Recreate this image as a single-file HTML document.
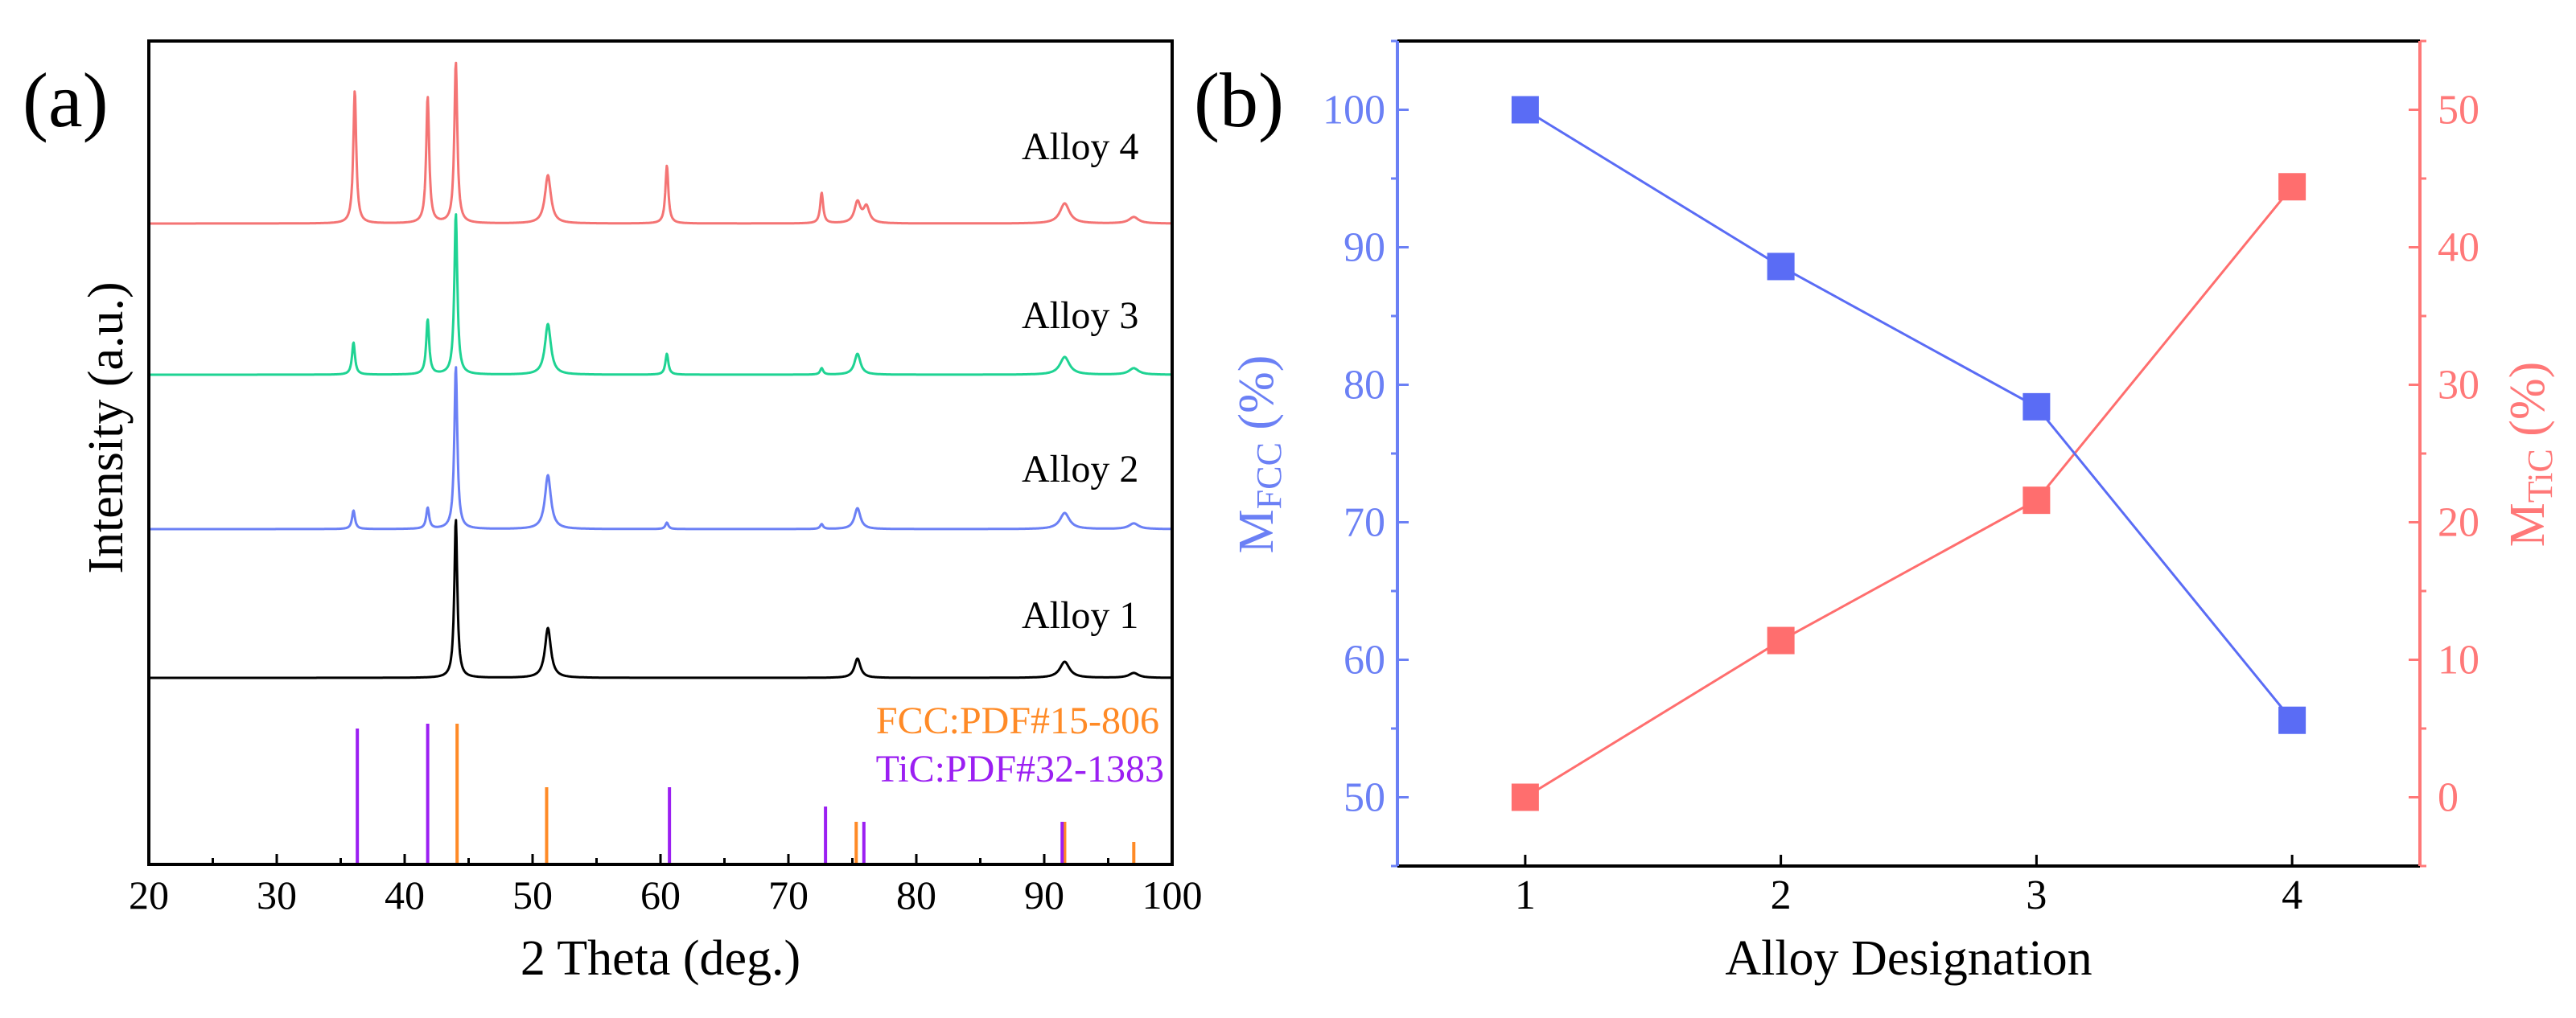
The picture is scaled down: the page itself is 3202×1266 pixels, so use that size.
<!DOCTYPE html>
<html><head><meta charset="utf-8"><style>
html,body{margin:0;padding:0;background:#fff}
svg{display:block}
text{font-family:"Liberation Serif",serif}
</style></head><body>
<svg id="fig" width="3202" height="1266" viewBox="0 0 3202 1266" xmlns="http://www.w3.org/2000/svg">
<g id="pa"></g>
<g id="pb"></g>
</svg>
<script>
// ---- Panel (a) data ----
const xrdAlloys = ["Alloy 1","Alloy 2","Alloy 3","Alloy 4"];
const xrdOffsets = [232, 417, 609, 797];
const alloy1Pos = [44.0, 51.2, 75.4, 91.6, 97.0];
const alloy1Hgt = [197, 62, 24, 20, 6];
const alloy2Pos = [36.0, 41.8, 44.0, 51.2, 60.5, 72.6, 75.4, 91.6, 97.0];
const alloy2Hgt = [23, 26, 202, 67, 8, 6, 26, 20, 7];
const alloy3Pos = [36.0, 41.8, 44.0, 51.2, 60.5, 72.6, 75.4, 91.6, 97.0];
const alloy3Hgt = [40, 68, 200, 63, 26, 8, 26, 22, 8];
const alloy4Pos = [36.1, 41.8, 44.0, 51.2, 60.5, 72.6, 75.4, 76.1, 91.6, 97.0];
const alloy4Hgt = [165, 157, 200, 60, 72, 38, 26, 20, 25, 8];
const fccPos = [44.1, 51.1, 75.3, 91.6, 97.0];
const fccHgt = [175, 96, 53, 53, 28];
const ticPos = [36.3, 41.8, 60.7, 72.9, 75.9, 91.4];
const ticHgt = [169, 175, 96, 72, 53, 53];
const xTicksA = [20,30,40,50,60,70,80,90,100];
// ---- Panel (b) data ----
const alloyCats = [1,2,3,4];
const mFcc = [100, 88.6, 78.4, 55.6];
const mTic = [0, 11.4, 21.6, 44.4];
const leftTicks = [50,60,70,80,90,100];
const rightTicks = [0,10,20,30,40,50];

const NS="http://www.w3.org/2000/svg";
function mk(parent,tag,attrs,txt){const e=document.createElementNS(NS,tag);for(const k in attrs)e.setAttribute(k,attrs[k]);if(txt!==undefined)e.textContent=txt;parent.appendChild(e);return e;}

// ===== Panel A =====
const pa=document.getElementById('pa');
const AL=185, AR=1457, AT=51, AB=1075;
const xa=v=>AL+(v-20)/80*(AR-AL);
const ya=v=>AB-v;
const colors=["#000000","#6b80f5","#1fd393","#f47474"];
const posArr=[alloy1Pos,alloy2Pos,alloy3Pos,alloy4Pos];
const hArr=[alloy1Hgt,alloy2Hgt,alloy3Hgt,alloy4Hgt];
for(let s=0;s<4;s++){
  let d="";
  for(let t=20.05;t<=99.95;t+=0.04){
    let v=xrdOffsets[s];
    posArr[s].forEach((p,i)=>{let w=(p>50&&p!==60.5&&p!==72.6)?0.28:0.14; if(p>90) w=0.45; v+=hArr[s][i]/(1+((t-p)/w)**2);});
    d+=(d?"L":"M")+xa(t).toFixed(1)+","+ya(v).toFixed(1);
  }
  const p=mk(pa,'path',{d:d,fill:'none',stroke:colors[s],'stroke-width':3,'stroke-linejoin':'round'});
  
  
  const lb=mk(pa,'text',{x:1270,y:[781,599,408,198][s],'font-size':48,fill:'#000'},xrdAlloys[s]);
  
  
}
fccPos.forEach((p,i)=>{const l=mk(pa,'line',{x1:xa(p),x2:xa(p),y1:AB,y2:ya(fccHgt[i]),stroke:'#ff8a26','stroke-width':4});
  
  });
ticPos.forEach((p,i)=>{const l=mk(pa,'line',{x1:xa(p),x2:xa(p),y1:AB,y2:ya(ticHgt[i]),stroke:'#9b1ff2','stroke-width':4});
  
  });
for(let v=20;v<=100;v+=5){const maj=v%10===0;mk(pa,'line',{x1:xa(v),x2:xa(v),y1:AB,y2:AB-(maj?13:8),stroke:'#000','stroke-width':3});}
xTicksA.forEach(v=>{const t=mk(pa,'text',{x:xa(v),y:1130,'font-size':50,'text-anchor':'middle'},String(v));
  
  });
mk(pa,'rect',{x:AL,y:AT,width:AR-AL,height:AB-AT,fill:'none',stroke:'#000','stroke-width':4});
let t;
t=mk(pa,'text',{x:xa(60),y:1212,'font-size':62,'text-anchor':'middle'},'2 Theta (deg.)');

t=mk(pa,'text',{x:0,y:0,'font-size':62,'text-anchor':'middle',transform:'translate(152,532) rotate(-90)'},'Intensity (a.u.)');

t=mk(pa,'text',{x:28,y:157,'font-size':96},'(a)');

t=mk(pa,'text',{x:1441,y:912,'font-size':48,'text-anchor':'end',fill:'#ff8a26'},'FCC:PDF#15-806');

t=mk(pa,'text',{x:1447,y:972,'font-size':48,'text-anchor':'end',fill:'#9b1ff2'},'TiC:PDF#32-1383');


// ===== Panel B =====
const pb=document.getElementById('pb');
const BL=1737, BR=3008, BT=51, BB=1077;
const xb=v=>BL+(v-0.5)/4*(BR-BL);
const yl=v=>BT+(105-v)/60*(BB-BT);
const yr=v=>BT+(55-v)/60*(BB-BT);
const BLUE="#6b80f5", RED="#ff7878";
mk(pb,'line',{x1:BL,x2:BR,y1:BT,y2:BT,stroke:'#000','stroke-width':4});
mk(pb,'line',{x1:BL,x2:BR,y1:BB,y2:BB,stroke:'#000','stroke-width':4});
mk(pb,'line',{x1:BL,x2:BL,y1:BT,y2:BB,stroke:BLUE,'stroke-width':4});
mk(pb,'line',{x1:BR,x2:BR,y1:BT,y2:BB,stroke:RED,'stroke-width':4});
alloyCats.forEach(c=>{mk(pb,'line',{x1:xb(c),x2:xb(c),y1:BB,y2:BB-14,stroke:'#000','stroke-width':3});
  const tx=mk(pb,'text',{x:xb(c),y:1130,'font-size':52,'text-anchor':'middle'},String(c));
  });
for(let v=45;v<=105;v+=5){const maj=v%10===0;mk(pb,'line',{x1:BL,x2:BL+(maj?14:-8),y1:yl(v),y2:yl(v),stroke:BLUE,'stroke-width':3});}
for(let v=-5;v<=55;v+=5){const maj=v%10===0;mk(pb,'line',{x1:BR,x2:BR+(maj?-14:8),y1:yr(v),y2:yr(v),stroke:RED,'stroke-width':3});}
leftTicks.forEach(v=>{const tx=mk(pb,'text',{x:1722,y:yl(v)+17,'font-size':52,'text-anchor':'end',fill:BLUE},String(v));
  });
rightTicks.forEach(v=>{const tx=mk(pb,'text',{x:3030,y:yr(v)+17,'font-size':52,fill:RED},String(v));
  });
function series(vals,yf,col,nm){
  const pl=mk(pb,'polyline',{points:vals.map((v,i)=>xb(alloyCats[i])+","+yf(v)).join(" "),fill:'none',stroke:col,'stroke-width':3});
  
  vals.forEach((v,i)=>{const r=mk(pb,'rect',{x:xb(alloyCats[i])-17,y:yf(v)-17,width:34,height:34,fill:col});
    });
}
series(mTic,yr,"#ff6e6e","mtic");
series(mFcc,yl,"#5a6cf5","mfcc");
t=mk(pb,'text',{x:xb(2.5),y:1212,'font-size':62,'text-anchor':'middle'},'Alloy Designation');

t=mk(pb,'text',{x:0,y:0,'font-size':62,'text-anchor':'middle',fill:BLUE,transform:'translate(1582,565) rotate(-90)'});

t.innerHTML='M<tspan font-size="44" dy="10">FCC</tspan><tspan dy="-10"> (%)</tspan>';
t=mk(pb,'text',{x:0,y:0,'font-size':62,'text-anchor':'middle',fill:RED,transform:'translate(3162,565) rotate(-90)'});

t.innerHTML='M<tspan font-size="44" dy="10">TiC</tspan><tspan dy="-10"> (%)</tspan>';
t=mk(pb,'text',{x:1484,y:157,'font-size':96},'(b)');

</script>
</body></html>
